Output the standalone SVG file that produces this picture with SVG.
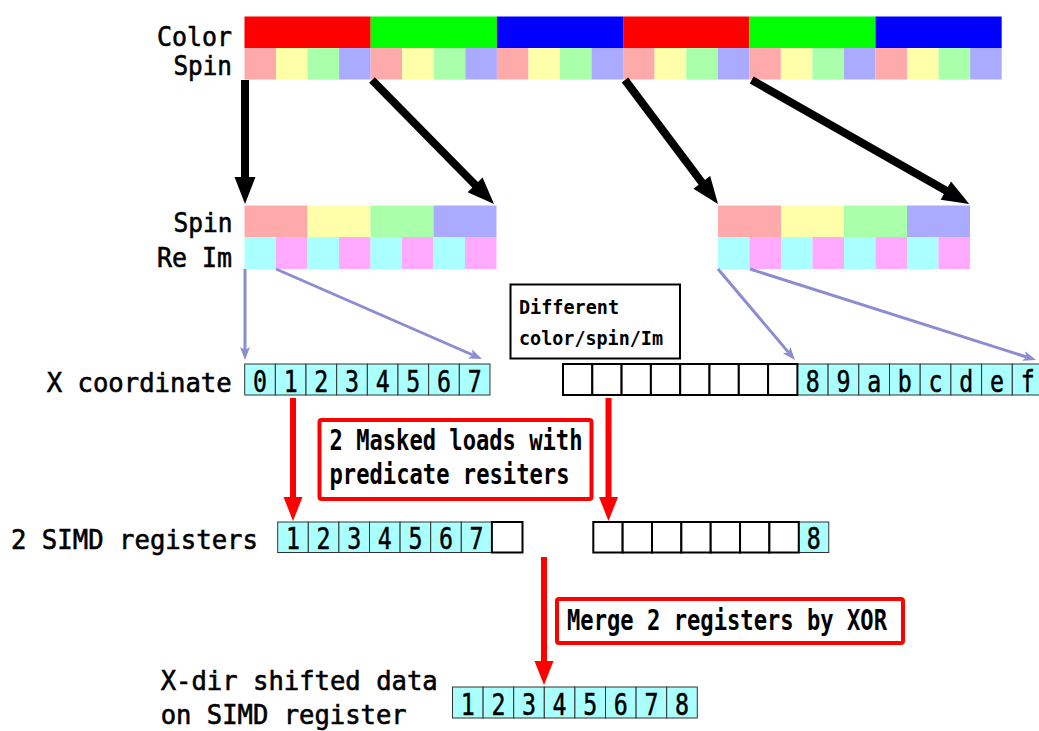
<svg xmlns="http://www.w3.org/2000/svg" width="1039" height="731" viewBox="0 0 1039 731">
<style>
text{font-family:"DejaVu Sans Mono","Liberation Mono",monospace;fill:#000}
.lbl{font-size:26.5px;stroke:#000;stroke-width:0.6}
.bt{font-size:29px;font-weight:bold}
.st{font-size:19px;font-weight:bold}
.d{font-size:30px;text-anchor:middle;stroke:#000;stroke-width:0.5}
.cy{fill:#aaffff;stroke:#333;stroke-width:1}
.wc{fill:#fff;stroke:#000;stroke-width:2}
.pk{fill:#ffaaaa}.yl{fill:#ffffaa}.gn{fill:#aaffaa}.lv{fill:#aaaaff}
.re{fill:#aaffff}.im{fill:#ffaaff}
.blk{stroke:#000;stroke-width:8;fill:none}
.lav{stroke:#8c8cd2;stroke-width:3;fill:none}
.red{stroke:#ff0000;stroke-width:6;fill:none}
</style>
<defs>
<marker id="hb" markerUnits="userSpaceOnUse" orient="auto" refX="1" refY="0" markerWidth="30" markerHeight="24" overflow="visible"><path d="M0,-10.5 L27,0 L0,10.5 z" fill="#000"/></marker>
<marker id="hl" markerUnits="userSpaceOnUse" orient="auto" refX="3" refY="0" markerWidth="16" markerHeight="12" overflow="visible"><path d="M0,-5 L13,0 L0,5 L3,0 z" fill="#8c8cd2"/></marker>
<marker id="hr" markerUnits="userSpaceOnUse" orient="auto" refX="1" refY="0" markerWidth="26" markerHeight="22" overflow="visible"><path d="M0,-9.5 L24,0 L0,9.5 z" fill="#ff0000"/></marker>
</defs>
<rect width="1039" height="731" fill="#fff"/>

<g id="color-bar">
<rect x="244.5" y="16.5" width="126.2" height="31.5" fill="#ff0000"/>
<rect x="370.7" y="16.5" width="126.2" height="31.5" fill="#00ff00"/>
<rect x="496.9" y="16.5" width="126.2" height="31.5" fill="#0000ff"/>
<rect x="623.1" y="16.5" width="126.2" height="31.5" fill="#ff0000"/>
<rect x="749.3" y="16.5" width="126.2" height="31.5" fill="#00ff00"/>
<rect x="875.5" y="16.5" width="126.2" height="31.5" fill="#0000ff"/>
</g>
<g id="spin-bar">
<rect class="pk" x="244.5" y="48" width="31.55" height="31.5"/><rect class="yl" x="276.05" y="48" width="31.55" height="31.5"/><rect class="gn" x="307.6" y="48" width="31.55" height="31.5"/><rect class="lv" x="339.15" y="48" width="31.55" height="31.5"/>
<rect class="pk" x="370.7" y="48" width="31.55" height="31.5"/><rect class="yl" x="402.25" y="48" width="31.55" height="31.5"/><rect class="gn" x="433.8" y="48" width="31.55" height="31.5"/><rect class="lv" x="465.35" y="48" width="31.55" height="31.5"/>
<rect class="pk" x="496.9" y="48" width="31.55" height="31.5"/><rect class="yl" x="528.45" y="48" width="31.55" height="31.5"/><rect class="gn" x="560" y="48" width="31.55" height="31.5"/><rect class="lv" x="591.55" y="48" width="31.55" height="31.5"/>
<rect class="pk" x="623.1" y="48" width="31.55" height="31.5"/><rect class="yl" x="654.65" y="48" width="31.55" height="31.5"/><rect class="gn" x="686.2" y="48" width="31.55" height="31.5"/><rect class="lv" x="717.75" y="48" width="31.55" height="31.5"/>
<rect class="pk" x="749.3" y="48" width="31.55" height="31.5"/><rect class="yl" x="780.85" y="48" width="31.55" height="31.5"/><rect class="gn" x="812.4" y="48" width="31.55" height="31.5"/><rect class="lv" x="843.95" y="48" width="31.55" height="31.5"/>
<rect class="pk" x="875.5" y="48" width="31.55" height="31.5"/><rect class="yl" x="907.05" y="48" width="31.55" height="31.5"/><rect class="gn" x="938.6" y="48" width="31.55" height="31.5"/><rect class="lv" x="970.15" y="48" width="31.55" height="31.5"/>
</g>

<g id="spin-left">
<rect class="pk" x="244.5" y="205.5" width="63" height="31.5"/><rect class="yl" x="307.5" y="205.5" width="63" height="31.5"/><rect class="gn" x="370.5" y="205.5" width="63" height="31.5"/><rect class="lv" x="433.5" y="205.5" width="63" height="31.5"/>
</g>
<g id="reim-left">
<rect class="re" x="244.5" y="237" width="31.5" height="32"/><rect class="im" x="276" y="237" width="31.5" height="32"/><rect class="re" x="307.5" y="237" width="31.5" height="32"/><rect class="im" x="339" y="237" width="31.5" height="32"/>
<rect class="re" x="370.5" y="237" width="31.5" height="32"/><rect class="im" x="402" y="237" width="31.5" height="32"/><rect class="re" x="433.5" y="237" width="31.5" height="32"/><rect class="im" x="465" y="237" width="31.5" height="32"/>
</g>
<g id="spin-right">
<rect class="pk" x="718" y="205.5" width="63" height="31.5"/><rect class="yl" x="781" y="205.5" width="63" height="31.5"/><rect class="gn" x="844" y="205.5" width="63" height="31.5"/><rect class="lv" x="907" y="205.5" width="63" height="31.5"/>
</g>
<g id="reim-right">
<rect class="re" x="718" y="237" width="31.5" height="32"/><rect class="im" x="749.5" y="237" width="31.5" height="32"/><rect class="re" x="781" y="237" width="31.5" height="32"/><rect class="im" x="812.5" y="237" width="31.5" height="32"/>
<rect class="re" x="844" y="237" width="31.5" height="32"/><rect class="im" x="875.5" y="237" width="31.5" height="32"/><rect class="re" x="907" y="237" width="31.5" height="32"/><rect class="im" x="938.5" y="237" width="31.5" height="32"/>
</g>

<g id="xcoord-left">
<rect class="cy" x="244.7" y="364" width="30.66" height="31"/><rect class="cy" x="275.36" y="364" width="30.66" height="31"/><rect class="cy" x="306.02" y="364" width="30.66" height="31"/><rect class="cy" x="336.68" y="364" width="30.66" height="31"/>
<rect class="cy" x="367.34" y="364" width="30.66" height="31"/><rect class="cy" x="398" y="364" width="30.66" height="31"/><rect class="cy" x="428.66" y="364" width="30.66" height="31"/><rect class="cy" x="459.32" y="364" width="30.66" height="31"/>
<text class="d" x="260" y="392" textLength="14" lengthAdjust="spacingAndGlyphs">0</text><text class="d" x="290.7" y="392" textLength="14" lengthAdjust="spacingAndGlyphs">1</text><text class="d" x="321.3" y="392" textLength="14" lengthAdjust="spacingAndGlyphs">2</text><text class="d" x="352" y="392" textLength="14" lengthAdjust="spacingAndGlyphs">3</text>
<text class="d" x="382.7" y="392" textLength="14" lengthAdjust="spacingAndGlyphs">4</text><text class="d" x="413.3" y="392" textLength="14" lengthAdjust="spacingAndGlyphs">5</text><text class="d" x="444" y="392" textLength="14" lengthAdjust="spacingAndGlyphs">6</text><text class="d" x="474.7" y="392" textLength="14" lengthAdjust="spacingAndGlyphs">7</text>
</g>
<g id="xcoord-right">
<rect class="cy" x="797.4" y="364" width="30.7" height="31"/><rect class="cy" x="828.1" y="364" width="30.7" height="31"/><rect class="cy" x="858.8" y="364" width="30.7" height="31"/><rect class="cy" x="889.5" y="364" width="30.7" height="31"/>
<rect class="cy" x="920.2" y="364" width="30.7" height="31"/><rect class="cy" x="950.9" y="364" width="30.7" height="31"/><rect class="cy" x="981.6" y="364" width="30.7" height="31"/><rect class="cy" x="1012.3" y="364" width="30.7" height="31"/>
<rect class="wc" x="563" y="364" width="29.3" height="31"/><rect class="wc" x="592.3" y="364" width="29.3" height="31"/><rect class="wc" x="621.6" y="364" width="29.3" height="31"/><rect class="wc" x="650.9" y="364" width="29.3" height="31"/>
<rect class="wc" x="680.2" y="364" width="29.3" height="31"/><rect class="wc" x="709.5" y="364" width="29.3" height="31"/><rect class="wc" x="738.8" y="364" width="29.3" height="31"/><rect class="wc" x="768.1" y="364" width="29.3" height="31"/>
<text class="d" x="812.75" y="392" textLength="14" lengthAdjust="spacingAndGlyphs">8</text><text class="d" x="843.45" y="392" textLength="14" lengthAdjust="spacingAndGlyphs">9</text><text class="d" x="874.15" y="392" textLength="14" lengthAdjust="spacingAndGlyphs">a</text><text class="d" x="904.85" y="392" textLength="14" lengthAdjust="spacingAndGlyphs">b</text>
<text class="d" x="935.55" y="392" textLength="14" lengthAdjust="spacingAndGlyphs">c</text><text class="d" x="966.25" y="392" textLength="14" lengthAdjust="spacingAndGlyphs">d</text><text class="d" x="996.95" y="392" textLength="14" lengthAdjust="spacingAndGlyphs">e</text><text class="d" x="1027.65" y="392" textLength="14" lengthAdjust="spacingAndGlyphs">f</text>
</g>

<g id="simd-left">
<rect class="cy" x="277.7" y="522" width="30.6" height="30.5"/><rect class="cy" x="308.3" y="522" width="30.6" height="30.5"/><rect class="cy" x="338.9" y="522" width="30.6" height="30.5"/><rect class="cy" x="369.5" y="522" width="30.6" height="30.5"/>
<rect class="cy" x="400.1" y="522" width="30.6" height="30.5"/><rect class="cy" x="430.7" y="522" width="30.6" height="30.5"/><rect class="cy" x="461.3" y="522" width="30.6" height="30.5"/>
<rect class="wc" x="491.9" y="522" width="30.6" height="30.5"/>
<text class="d" x="293" y="549" textLength="14" lengthAdjust="spacingAndGlyphs">1</text><text class="d" x="323.6" y="549" textLength="14" lengthAdjust="spacingAndGlyphs">2</text><text class="d" x="354.2" y="549" textLength="14" lengthAdjust="spacingAndGlyphs">3</text><text class="d" x="384.8" y="549" textLength="14" lengthAdjust="spacingAndGlyphs">4</text>
<text class="d" x="415.4" y="549" textLength="14" lengthAdjust="spacingAndGlyphs">5</text><text class="d" x="446" y="549" textLength="14" lengthAdjust="spacingAndGlyphs">6</text><text class="d" x="476.6" y="549" textLength="14" lengthAdjust="spacingAndGlyphs">7</text>
</g>
<g id="simd-right">
<rect class="cy" x="798.75" y="522" width="30" height="30.5"/>
<rect class="wc" x="593.3" y="522" width="29.35" height="30.5"/><rect class="wc" x="622.65" y="522" width="29.35" height="30.5"/><rect class="wc" x="652" y="522" width="29.35" height="30.5"/><rect class="wc" x="681.35" y="522" width="29.35" height="30.5"/>
<rect class="wc" x="710.7" y="522" width="29.35" height="30.5"/><rect class="wc" x="740.05" y="522" width="29.35" height="30.5"/><rect class="wc" x="769.4" y="522" width="29.35" height="30.5"/>
<text class="d" x="813.75" y="549" textLength="14" lengthAdjust="spacingAndGlyphs">8</text>
</g>

<g id="result">
<rect class="cy" x="452.5" y="687" width="30.6" height="31"/><rect class="cy" x="483.1" y="687" width="30.6" height="31"/><rect class="cy" x="513.7" y="687" width="30.6" height="31"/><rect class="cy" x="544.3" y="687" width="30.6" height="31"/>
<rect class="cy" x="574.9" y="687" width="30.6" height="31"/><rect class="cy" x="605.5" y="687" width="30.6" height="31"/><rect class="cy" x="636.1" y="687" width="30.6" height="31"/><rect class="cy" x="666.7" y="687" width="30.6" height="31"/>
<text class="d" x="467.8" y="715" textLength="14" lengthAdjust="spacingAndGlyphs">1</text><text class="d" x="498.4" y="715" textLength="14" lengthAdjust="spacingAndGlyphs">2</text><text class="d" x="529" y="715" textLength="14" lengthAdjust="spacingAndGlyphs">3</text><text class="d" x="559.6" y="715" textLength="14" lengthAdjust="spacingAndGlyphs">4</text>
<text class="d" x="590.2" y="715" textLength="14" lengthAdjust="spacingAndGlyphs">5</text><text class="d" x="620.8" y="715" textLength="14" lengthAdjust="spacingAndGlyphs">6</text><text class="d" x="651.4" y="715" textLength="14" lengthAdjust="spacingAndGlyphs">7</text><text class="d" x="682" y="715" textLength="14" lengthAdjust="spacingAndGlyphs">8</text>
</g>

<g id="box-different">
<rect x="510.5" y="284.5" width="169.5" height="74" fill="#fff" stroke="#000" stroke-width="2"/>
<text class="st" x="519" y="314" textLength="100" lengthAdjust="spacingAndGlyphs">Different</text>
<text class="st" x="519" y="345" textLength="144" lengthAdjust="spacingAndGlyphs">color/spin/Im</text>
</g>
<g id="box-masked">
<rect x="319.5" y="420" width="272" height="79" rx="2" fill="#fff" stroke="#ff0000" stroke-width="4"/>
<text class="bt" x="329.5" y="449.5" textLength="253" lengthAdjust="spacingAndGlyphs">2 Masked loads with</text>
<text class="bt" x="329.5" y="483.5" textLength="240" lengthAdjust="spacingAndGlyphs">predicate resiters</text>
</g>
<g id="box-merge">
<rect x="557" y="599" width="346" height="44" rx="2" fill="#fff" stroke="#ff0000" stroke-width="4"/>
<text class="bt" x="567" y="630" textLength="320" lengthAdjust="spacingAndGlyphs">Merge 2 registers by XOR</text>
</g>

<g id="labels">
<text class="lbl" x="157" y="46" textLength="75" lengthAdjust="spacingAndGlyphs">Color</text>
<text class="lbl" x="173.5" y="75" textLength="58.5" lengthAdjust="spacingAndGlyphs">Spin</text>
<text class="lbl" x="173.5" y="232" textLength="59" lengthAdjust="spacingAndGlyphs">Spin</text>
<text class="lbl" x="157" y="266.5" textLength="75" lengthAdjust="spacingAndGlyphs">Re Im</text>
<text class="lbl" x="46.7" y="392" textLength="185" lengthAdjust="spacingAndGlyphs">X coordinate</text>
<text class="lbl" x="11" y="549" textLength="247" lengthAdjust="spacingAndGlyphs">2 SIMD registers</text>
<text class="lbl" x="160.7" y="690" textLength="277" lengthAdjust="spacingAndGlyphs">X-dir shifted data</text>
<text class="lbl" x="160.7" y="723.5" textLength="246" lengthAdjust="spacingAndGlyphs">on SIMD register</text>
</g>

<g id="connectors">
<line class="blk" x1="245" y1="80" x2="245" y2="178" marker-end="url(#hb)"/>
<line class="blk" x1="372" y1="80" x2="475.8" y2="185.5" marker-end="url(#hb)"/>
<line class="blk" x1="625" y1="80" x2="702.4" y2="183.2" marker-end="url(#hb)"/>
<line class="blk" x1="751.7" y1="80" x2="946.7" y2="191.1" marker-end="url(#hb)"/>
<line class="lav" x1="245" y1="269" x2="245" y2="350" marker-end="url(#hl)"/>
<line class="lav" x1="276" y1="269" x2="472.8" y2="355" marker-end="url(#hl)"/>
<line class="lav" x1="718" y1="269" x2="788.5" y2="352.4" marker-end="url(#hl)"/>
<line class="lav" x1="750" y1="269" x2="1026.5" y2="357" marker-end="url(#hl)"/>
<line class="red" x1="293" y1="398" x2="293" y2="498" marker-end="url(#hr)"/>
<line class="red" x1="608.5" y1="398" x2="608.5" y2="498" marker-end="url(#hr)"/>
<line class="red" x1="544" y1="557" x2="544" y2="662" marker-end="url(#hr)"/>
</g>
</svg>
